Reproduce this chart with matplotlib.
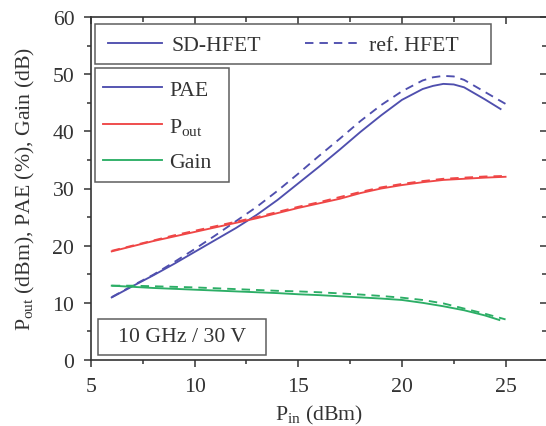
import matplotlib
matplotlib.use("Agg")
import matplotlib.pyplot as plt
from matplotlib.lines import Line2D
from matplotlib.patches import Rectangle
from matplotlib.ticker import MultipleLocator

plt.rcParams["font.family"] = ["Liberation Serif", "DejaVu Serif"]
plt.rcParams["mathtext.fontset"] = "custom"
plt.rcParams["mathtext.rm"] = "Liberation Serif"
plt.rcParams["mathtext.it"] = "Liberation Serif:italic"

# Input power sweep (dBm)
pin_sd = [6, 7, 8, 9, 10, 11, 12, 13, 14, 15, 16, 17, 18, 19, 20, 21, 21.5, 22, 22.5, 23, 24, 24.76]
pin_ref = [6, 7, 8, 9, 10, 11, 12, 13, 14, 15, 16, 17, 18, 19, 20, 21, 21.5, 22, 22.5, 23, 24, 25]
pin = [6, 7, 8, 9, 10, 11, 12, 13, 14, 15, 16, 17, 18, 19, 20, 21, 22, 23, 24, 25]
pin_gain_sd = [6, 7, 8, 9, 10, 11, 12, 13, 14, 15, 16, 17, 18, 19, 20, 21, 22, 23, 24, 24.7]

# SD-HFET
pae_sd = [10.95, 12.9, 14.8, 16.8, 18.9, 21.0, 23.1, 25.4, 28.0, 30.9, 33.8, 36.8, 39.9, 42.8, 45.5, 47.4, 47.95, 48.3, 48.2, 47.7, 45.6, 43.9]
pout_sd = [19.0, 19.9, 20.8, 21.6, 22.4, 23.2, 24.0, 24.8, 25.7, 26.6, 27.4, 28.2, 29.2, 30.0, 30.6, 31.1, 31.5, 31.7, 31.9, 32.05]
gain_sd = [13.0, 12.8, 12.6, 12.45, 12.3, 12.15, 12.0, 11.85, 11.7, 11.5, 11.35, 11.15, 10.95, 10.75, 10.5, 10.0, 9.4, 8.7, 7.8, 7.0]

# ref. HFET
pae_ref = [11.0, 13.0, 14.9, 17.1, 19.4, 21.8, 24.3, 26.8, 29.6, 32.6, 35.7, 38.7, 41.8, 44.6, 47.0, 48.9, 49.45, 49.7, 49.6, 49.0, 46.9, 44.8]
pout_ref = [19.1, 20.0, 20.9, 21.8, 22.6, 23.4, 24.2, 25.0, 25.9, 26.8, 27.6, 28.5, 29.4, 30.2, 30.8, 31.3, 31.7, 31.9, 32.1, 32.2]
gain_ref = [13.0, 13.0, 12.9, 12.8, 12.7, 12.55, 12.4, 12.25, 12.1, 12.0, 11.85, 11.65, 11.45, 11.2, 10.9, 10.5, 9.9, 9.0, 8.1, 7.1]

c_pae = "#4f4fae"
c_pout = "#ef4646"
c_gain = "#2cae66"
c_ax = "#333333"
c_box = "#5e5e5e"
lw = 1.35
dash = (0, (4.5, 3.2))
fs = 15.7

W, H = 546, 427
fig = plt.figure(figsize=(W / 100, H / 100), dpi=100)
ax = fig.add_axes([91 / W, 1 - 361 / H, 456 / W, 343 / H])


def px(x, y):
    """Pixel position (from top-left) to figure fraction."""
    return x / W, 1 - y / H


ax.plot(pin_sd, pae_sd, color=c_pae, lw=lw)
ax.plot(pin_ref, pae_ref, color=c_pae, lw=lw, ls=dash)
ax.plot(pin, pout_sd, color=c_pout, lw=lw)
ax.plot(pin, pout_ref, color=c_pout, lw=lw, ls=dash)
ax.plot(pin_gain_sd, gain_sd, color=c_gain, lw=lw)
ax.plot(pin, gain_ref, color=c_gain, lw=lw, ls=dash)

ax.set_xlim(5, 27)
ax.set_ylim(0, 60)
ax.set_xticks([5, 10, 15, 20, 25])
ax.set_yticks([0, 10, 20, 30, 40, 50, 60])
ax.xaxis.set_minor_locator(MultipleLocator(2.5))
ax.yaxis.set_minor_locator(MultipleLocator(5))
ax.tick_params(which="both", direction="out", labelsize=fs, width=1.1,
               colors=c_ax, labelcolor=c_ax, pad=7)
ax.tick_params(which="major", length=5)
ax.tick_params(which="minor", length=3)
for s in ax.spines.values():
    s.set_linewidth(1.2)
    s.set_color(c_ax)

# inward ticks on the top and right edges
for sec in (ax.secondary_xaxis("top"), ax.secondary_yaxis("right")):
    sec.tick_params(which="both", direction="in", width=1.1, colors=c_ax)
    sec.tick_params(which="major", length=5)
    sec.tick_params(which="minor", length=3.5)
    sec.spines[:].set_visible(False)
top, right = ax.child_axes[-2], ax.child_axes[-1]
top.set_xticks([5, 10, 15, 20, 25])
top.xaxis.set_minor_locator(MultipleLocator(2.5))
top.set_xticklabels([])
right.set_yticks([0, 10, 20, 30, 40, 50, 60])
right.yaxis.set_minor_locator(MultipleLocator(5))
right.set_yticklabels([])

ax.set_xlabel(r"P$_\mathrm{in}$ (dBm)", fontsize=fs, color=c_ax, labelpad=5)
ax.set_ylabel(r"P$_\mathrm{out}$ (dBm), PAE (%), Gain (dB)", fontsize=fs, color=c_ax, labelpad=11)

# legend frames
for (x0, y0, x1, y1) in [(95, 25, 491, 65), (95, 69, 229, 183), (98, 320, 266, 356)]:
    fx0, fy1 = px(x0, y0)
    fx1, fy0 = px(x1, y1)
    ax.add_patch(Rectangle((fx0, fy0), fx1 - fx0, fy1 - fy0, transform=fig.transFigure,
                           fc="white", ec=c_box, lw=1.1, zorder=4, clip_on=False))

h1 = [Line2D([], [], color=c_pae, lw=lw), Line2D([], [], color=c_pae, lw=lw, ls=dash)]
leg1 = ax.legend(h1, ["SD-HFET", "ref. HFET"], ncol=2, loc="center left",
                 bbox_to_anchor=px(108, 46), bbox_transform=fig.transFigure,
                 fontsize=fs, frameon=False, handlelength=2.48, columnspacing=2.0,
                 borderpad=0, borderaxespad=0, handletextpad=0.45)
leg1.set_zorder(5)
for t in leg1.get_texts():
    t.set_color(c_ax)
ax.add_artist(leg1)

h2 = [Line2D([], [], color=c_pae, lw=lw), Line2D([], [], color=c_pout, lw=lw),
      Line2D([], [], color=c_gain, lw=lw)]
leg2 = ax.legend(h2, ["PAE", r"P$_\mathrm{out}$", "Gain"], loc="center left",
                 bbox_to_anchor=px(103, 127), bbox_transform=fig.transFigure,
                 fontsize=fs, frameon=False, handlelength=2.7, labelspacing=0.72,
                 borderpad=0, borderaxespad=0, handletextpad=0.32)
leg2.set_zorder(5)
for t in leg2.get_texts():
    t.set_color(c_ax)

cx, cy = px(182, 338)
fig.text(cx, cy, "10 GHz / 30 V", fontsize=fs, ha="center", va="center",
         color=c_ax, zorder=6)

fig.savefig("out.png", dpi=100)
